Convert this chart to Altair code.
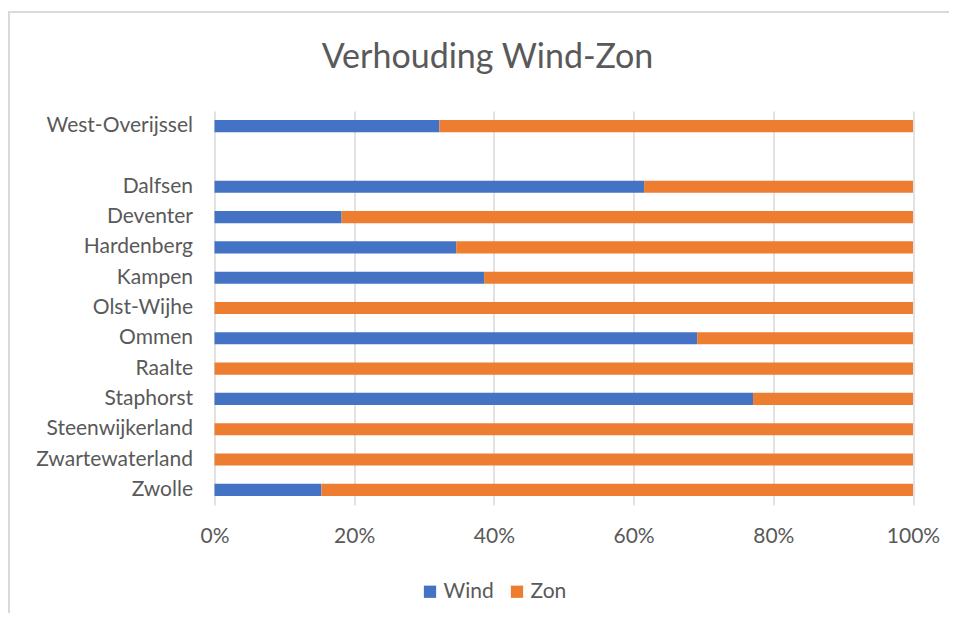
import altair as alt
import pandas as pd

categories = ["West-Overijssel", " ", "Dalfsen", "Deventer", "Hardenberg", "Kampen",
              "Olst-Wijhe", "Ommen", "Raalte", "Staphorst", "Steenwijkerland",
              "Zwartewaterland", "Zwolle"]
regions = ["West-Overijssel", "Dalfsen", "Deventer", "Hardenberg", "Kampen",
           "Olst-Wijhe", "Ommen", "Raalte", "Staphorst", "Steenwijkerland",
           "Zwartewaterland", "Zwolle"]
wind = [32.2, 61.5, 18.2, 34.6, 38.6, 0.0, 69.1, 0.0, 77.1, 0.0, 0.0, 15.3]
zon = [67.8, 38.5, 81.8, 65.4, 61.4, 100.0, 30.9, 100.0, 22.9, 100.0, 100.0, 84.7]
series = ["Wind", "Zon"]
colors = ["#4472C4", "#ED7D31"]
title_text = ["Verhouding Wind-Zon"]

rows = []
for r, w, z in zip(regions, wind, zon):
    rows.append({"regio": r, "bron": "Wind", "waarde": w, "volgorde": 0})
    rows.append({"regio": r, "bron": "Zon", "waarde": z, "volgorde": 1})
df = pd.DataFrame(rows)
single = pd.DataFrame({"titel": title_text})

FONT = "Lato"
GREY = "#595959"
FS = 21

bars = alt.Chart(df).mark_bar().encode(
    y=alt.Y("regio:N", sort=categories,
            scale=alt.Scale(domain=categories, paddingInner=0.6, paddingOuter=0.3),
            axis=alt.Axis(title=None, ticks=False, domain=False, labelPadding=22,
                          labelFontSize=FS, labelColor=GREY, labelFont=FONT)),
    x=alt.X("waarde:Q", stack="normalize",
            scale=alt.Scale(domain=[0, 1], nice=False),
            axis=alt.Axis(title=None, format=".0%", values=[0, 0.2, 0.4, 0.6, 0.8, 1.0],
                          ticks=False, domain=False, labelPadding=20, labelFlush=False,
                          labelFontSize=FS, labelColor=GREY, labelFont=FONT,
                          gridColor="#d9d9d9", gridWidth=1.5)),
    color=alt.Color("bron:N", scale=alt.Scale(domain=series, range=colors),
                    legend=alt.Legend(title=None, orient="none", direction="horizontal",
                                      legendX=205, legendY=470, symbolType="square",
                                      symbolSize=150, symbolStrokeWidth=0,
                                      labelFontSize=FS, labelColor=GREY, labelFont=FONT,
                                      columnPadding=12, labelOffset=3)),
    order=alt.Order("volgorde:Q"),
)

frame = alt.Chart(single).mark_rect(fill=None, stroke="#d9d9d9", strokeWidth=2).encode(
    x=alt.value(-205.5), x2=alt.value(800), y=alt.value(-99), y2=alt.value(560))

title = alt.Chart(single).mark_text(font=FONT, fontSize=34, color=GREY, align="center",
                                    baseline="middle", fontWeight="normal").encode(
    x=alt.value(273), y=alt.value(-53), text="titel:N")

chart = alt.layer(frame, bars, title).properties(
    width=698.5, height=394,
    autosize=alt.AutoSizeParams(type="none"),
    padding={"left": 206.5, "top": 103, "right": 36, "bottom": 108},
).configure_view(stroke=None)

chart.save("out.html", embed_options={"renderer": "svg", "actions": False})
